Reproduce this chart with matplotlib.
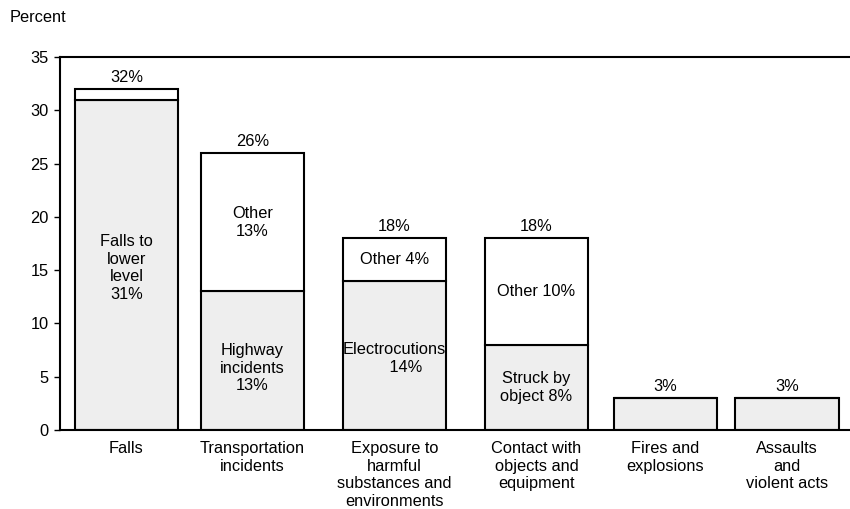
import matplotlib.pyplot as plt

plt.rcParams['font.family'] = ['Liberation Sans', 'DejaVu Sans']

categories = ['Falls', 'Transportation\nincidents', 'Exposure to\nharmful\nsubstances and\nenvironments',
              'Contact with\nobjects and\nequipment', 'Fires and\nexplosions', 'Assaults\nand\nviolent acts']
lower = [31, 13, 14, 8, 3, 3]
upper = [1, 13, 4, 10, 0, 0]
totals = ['32%', '26%', '18%', '18%', '3%', '3%']
lower_labels = ['Falls to\nlower\nlevel\n31%', 'Highway\nincidents\n13%', 'Electrocutions\n     14%',
                'Struck by\nobject 8%', '', '']
upper_labels = ['', 'Other\n13%', 'Other 4%', 'Other 10%', '', '']

# bar centres (the original spacing is slightly uneven)
xpos = [0, 0.954, 2.029, 3.104, 4.077, 5.0]
label_shift = [-0.3, -0.7, -0.3, 0, 0, 0]

fig = plt.figure(figsize=(8.5, 5.09), dpi=100)
ax = fig.add_axes([60 / 850, 1 - 430 / 509, 1 - 60 / 850, (430 - 57) / 509])

w = 0.78
ax.bar(xpos, lower, width=w, color='#eeeeee', edgecolor='black', linewidth=1.5)
ax.bar(xpos, upper, bottom=lower, width=w, color='white', edgecolor='black', linewidth=1.5)

fs = 11.8
ls = 1.22
for i, xc in enumerate(xpos):
    top = lower[i] + upper[i]
    ax.annotate(totals[i], (xc, top), xytext=(0, 3), textcoords='offset points',
                ha='center', va='bottom', fontsize=fs)
    if lower_labels[i]:
        ax.text(xc, lower[i] / 2 + label_shift[i], lower_labels[i], ha='center', va='center',
                fontsize=fs, linespacing=ls)
    if upper_labels[i]:
        ax.text(xc, lower[i] + upper[i] / 2, upper_labels[i], ha='center', va='center',
                fontsize=fs, linespacing=ls)

ax.set_xlim(-0.503, 5.477)
ax.set_ylim(0, 35)
ax.set_yticks(range(0, 36, 5))
ax.set_xticks(xpos)
ax.set_xticklabels(categories, fontsize=fs, linespacing=ls)
ax.tick_params(axis='x', length=0, pad=8)
ax.tick_params(axis='y', length=4, width=1, labelsize=fs, pad=4)
ax.spines['right'].set_visible(False)
for s in ['left', 'bottom', 'top']:
    ax.spines[s].set_linewidth(1.5)

fig.text(10 / 850, 1 - 18 / 509, 'Percent', fontsize=fs, ha='left', va='center')

fig.savefig('out.png', dpi=100)
